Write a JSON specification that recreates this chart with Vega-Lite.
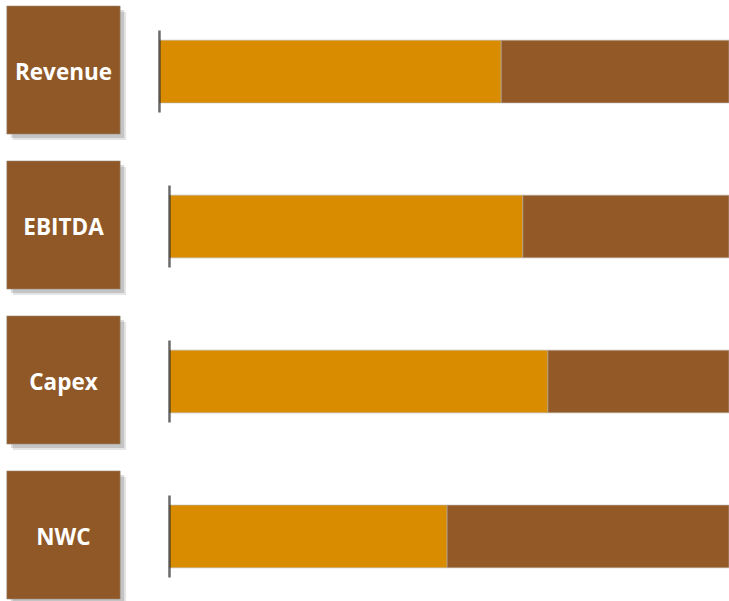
{
  "$schema": "https://vega.github.io/schema/vega-lite/v6.json",
  "width": 729,
  "height": 593,
  "padding": {"left": 0, "right": 0, "top": 6, "bottom": 2},
  "autosize": {"type": "none"},
  "background": "white",
  "config": {"view": {"stroke": null}},
  "data": {
    "values": [
      {"metric": "Revenue", "start": 0, "mid": 60, "end": 100},
      {"metric": "EBITDA", "start": 1.76, "mid": 63.8, "end": 100},
      {"metric": "Capex", "start": 1.76, "mid": 68.2, "end": 100},
      {"metric": "NWC", "start": 1.76, "mid": 50.5, "end": 100}
    ]
  },
  "encoding": {
    "y": {
      "field": "metric",
      "type": "nominal",
      "sort": ["Revenue", "EBITDA", "Capex", "NWC"],
      "scale": {"paddingInner": 0.174, "paddingOuter": 0},
      "axis": null
    }
  },
  "layer": [
    {
      "mark": {"type": "bar", "color": "#000000", "opacity": 0.1, "yOffset": 6},
      "encoding": {
        "x": {"datum": -25.75, "type": "quantitative", "scale": {"domain": [-28, 100], "nice": false, "zero": false}, "axis": null},
        "x2": {"datum": -5.85}
      }
    },
    {
      "mark": {"type": "bar", "color": "#000000", "opacity": 0.14, "yOffset": 4},
      "encoding": {
        "x": {"datum": -26.1, "type": "quantitative"},
        "x2": {"datum": -6.2}
      }
    },
    {
      "mark": {"type": "bar", "color": "#8F5826", "stroke": "#9a8a7a", "strokeWidth": 0.6},
      "encoding": {
        "x": {"datum": -26.8, "type": "quantitative"},
        "x2": {"datum": -6.9}
      }
    },
    {
      "mark": {"type": "text", "color": "white", "font": "Open Sans", "fontWeight": "bold", "fontSize": 22.5, "align": "center", "baseline": "middle", "dy": 3},
      "encoding": {
        "x": {"datum": -16.85, "type": "quantitative"},
        "text": {"field": "metric"}
      }
    },
    {
      "mark": {"type": "bar", "color": "#D98C00", "height": {"band": 0.49}, "yOffset": 1.5, "stroke": "#b5aea5", "strokeWidth": 0.6},
      "encoding": {
        "x": {"field": "start", "type": "quantitative"},
        "x2": {"field": "mid"}
      }
    },
    {
      "mark": {"type": "bar", "color": "#935A28", "height": {"band": 0.49}, "yOffset": 1.5, "stroke": "#b5aea5", "strokeWidth": 0.6},
      "encoding": {
        "x": {"field": "mid", "type": "quantitative"},
        "x2": {"field": "end"}
      }
    },
    {
      "mark": {"type": "tick", "color": "#2b2b2b", "size": 82, "thickness": 2.5, "orient": "vertical", "yOffset": 1.5},
      "encoding": {
        "x": {"field": "start", "type": "quantitative"}
      }
    }
  ]
}
